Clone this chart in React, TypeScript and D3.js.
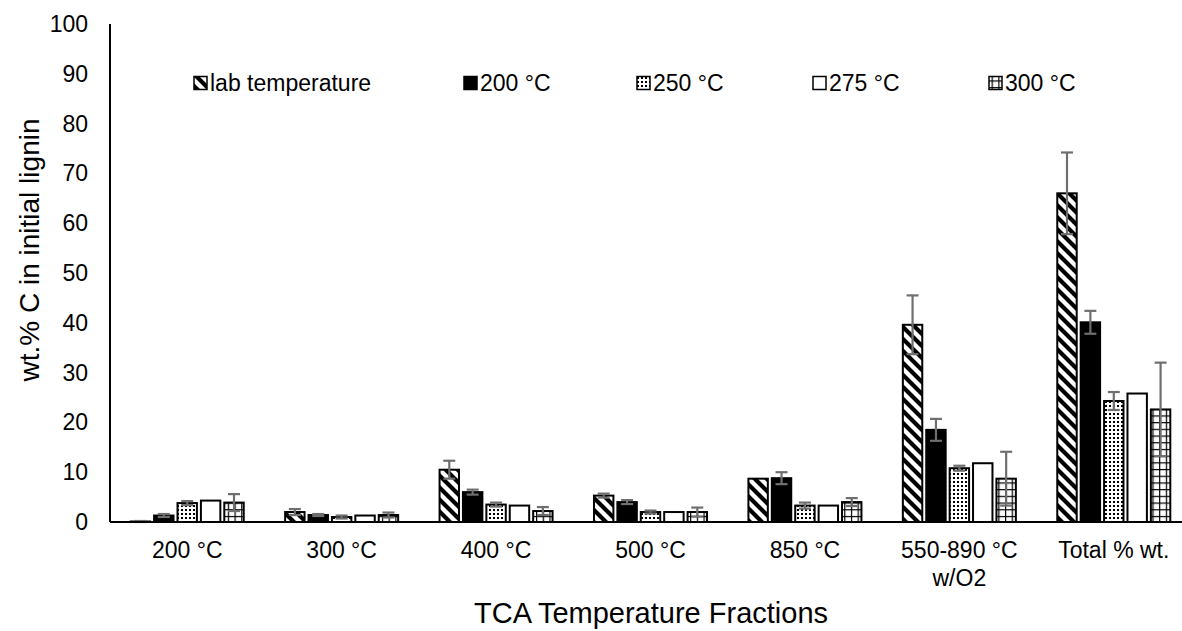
import React from "react";
import * as d3 from "d3";

// Fraction categories along the x axis
const categories = ["200 °C", "300 °C", "400 °C", "500 °C", "850 °C", "550-890 °C\nw/O2", "Total % wt."];
// Pyrolysis treatment series
const seriesNames = ["lab temperature", "200 °C", "250 °C", "275 °C", "300 °C"];

// wt.% C in initial lignin, per series
const labTemp = [0.1, 2.0, 10.5, 5.3, 8.7, 39.6, 66.0];
const t200 = [1.3, 1.4, 6.0, 4.0, 8.8, 18.5, 40.1];
const t250 = [3.8, 1.0, 3.5, 2.0, 3.3, 10.8, 24.3];
const t275 = [4.3, 1.3, 3.3, 2.0, 3.3, 11.8, 25.8];
const t300 = [3.9, 1.4, 2.2, 2.0, 4.0, 8.7, 22.6];

// Standard deviations (error bars)
const labErr = [0.1, 0.6, 1.8, 0.4, 0, 5.9, 8.2];
const e200 = [0.3, 0.2, 0.5, 0.4, 1.2, 2.2, 2.3];
const e250 = [0.4, 0.3, 0.4, 0.3, 0.6, 0.5, 1.8];
const e275 = [0, 0, 0, 0, 0, 0, 0];
const e300 = [1.7, 0.5, 0.8, 0.9, 0.8, 5.4, 9.4];

const yTicks = [0, 10, 20, 30, 40, 50, 60, 70, 80, 90, 100];

const seriesValues = [labTemp, t200, t250, t275, t300];
const seriesErrors = [labErr, e200, e250, e275, e300];
const fills = ["url(#pDiag)", "#000", "url(#pDots)", "#fff", "url(#pGrid)"];

const W = 1182;
const H = 631;
const FONT = "'Liberation Sans', Arial, Helvetica, sans-serif";

const plot = { left: 110, right: 1191, top: 24, bottom: 522 };

// legend text start positions
const legendX = [210, 480, 653, 829, 1005];
const legendY = 83;

export default function App() {
  const x0 = d3.scaleBand<string>().domain(categories).range([plot.left, plot.right]).padding(0);
  const y = d3.scaleLinear().domain([0, 100]).range([plot.bottom, plot.top]);
  const groupHalf = 58.5;
  const x1 = d3
    .scaleBand<string>()
    .domain(seriesNames)
    .range([-groupHalf, groupHalf])
    .paddingInner(0.17)
    .paddingOuter(0.085);
  const bw = x1.bandwidth();
  const capHalf = 6;

  return (
    <svg
      width={W}
      height={H}
      style={{ position: "absolute", left: 0, top: 0, background: "#fff" }}
      fontFamily={FONT}
    >
      <defs>
        <pattern id="pDiag" patternUnits="userSpaceOnUse" width={12} height={12}>
          <rect width={12} height={12} fill="#fff" />
          <path d="M-6,6 L6,18 M-3,-3 L15,15 M6,-6 L18,6" stroke="#000" strokeWidth={4.2} />
        </pattern>
        <pattern id="pDots" patternUnits="userSpaceOnUse" width={4} height={4}>
          <rect width={4} height={4} fill="#fff" />
          <rect x={1} y={1} width={2} height={2} fill="#000" />
        </pattern>
        <pattern id="pGrid" patternUnits="userSpaceOnUse" width={6.7} height={6.7}>
          <rect width={6.7} height={6.7} fill="#fff" />
          <path d="M0,0 L0,6.7 M0,0 L6.7,0" stroke="#000" strokeWidth={2.4} />
        </pattern>
      </defs>

      {/* bars */}
      {categories.map((c, i) => {
        const cx = (x0(c) as number) + x0.bandwidth() / 2;
        return (
          <g key={c}>
            {seriesNames.map((s, j) => {
              const v = seriesValues[j][i];
              const bx = cx + (x1(s) as number);
              return (
                <rect
                  key={s}
                  x={bx}
                  y={y(v)}
                  width={bw}
                  height={y(0) - y(v)}
                  fill={fills[j]}
                  stroke="#000"
                  strokeWidth={2}
                />
              );
            })}
          </g>
        );
      })}

      {/* error bars */}
      {categories.map((c, i) => {
        const cx = (x0(c) as number) + x0.bandwidth() / 2;
        return (
          <g key={"e" + c} stroke="#6f6f6f" strokeWidth={2.2}>
            {seriesNames.map((s, j) => {
              const v = seriesValues[j][i];
              const e = seriesErrors[j][i];
              if (!e) return null;
              const ex = cx + (x1(s) as number) + bw / 2;
              const lo = Math.max(0, v - e);
              return (
                <g key={s}>
                  <line x1={ex} x2={ex} y1={y(v + e)} y2={y(lo)} />
                  <line x1={ex - capHalf} x2={ex + capHalf} y1={y(v + e)} y2={y(v + e)} />
                  <line x1={ex - capHalf} x2={ex + capHalf} y1={y(lo)} y2={y(lo)} />
                </g>
              );
            })}
          </g>
        );
      })}

      {/* axes */}
      <line x1={plot.left} x2={plot.left} y1={y(100)} y2={y(0)} stroke="#000" strokeWidth={2} />
      <line x1={plot.left} x2={plot.right} y1={y(0)} y2={y(0)} stroke="#000" strokeWidth={2} />

      {yTicks.map((t) => (
        <text key={t} x={88} y={y(t)} textAnchor="end" dominantBaseline="central" fontSize={23} fill="#000">
          {t}
        </text>
      ))}

      {categories.map((c) => {
        const cx = (x0(c) as number) + x0.bandwidth() / 2;
        const lines = c.split("\n");
        return (
          <text key={"l" + c} x={cx} y={550} textAnchor="middle" fontSize={23} fill="#000">
            {lines.map((ln, k) => (
              <tspan key={k} x={cx} dy={k === 0 ? "0.35em" : 28}>
                {ln}
              </tspan>
            ))}
          </text>
        );
      })}

      {/* axis titles */}
      <text
        transform={`translate(29,250) rotate(-90)`}
        textAnchor="middle"
        dominantBaseline="central"
        fontSize={28}
        fill="#000"
      >
        wt.% C in initial lignin
      </text>
      <text x={651} y={613} textAnchor="middle" dominantBaseline="central" fontSize={29} fill="#000">
        TCA Temperature Fractions
      </text>

      {/* legend */}
      {seriesNames.map((s, j) => (
        <g key={"lg" + s}>
          <rect
            x={legendX[j] - 16}
            y={legendY - 6.5}
            width={13}
            height={13}
            fill={fills[j]}
            stroke="#000"
            strokeWidth={1.5}
          />
          <text x={legendX[j]} y={legendY} dominantBaseline="central" fontSize={23} fill="#000">
            {s}
          </text>
        </g>
      ))}
    </svg>
  );
}
